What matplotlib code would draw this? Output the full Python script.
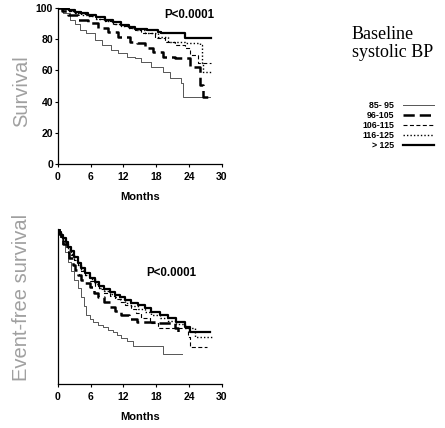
import matplotlib
matplotlib.use("Agg")
import matplotlib.pyplot as plt

plt.rcParams['font.family'] = ['Liberation Sans', 'DejaVu Sans']

groups = ["85- 95", "96-105", "106-115", "116-125", "> 125"]

# overall survival (%), Kaplan-Meier steps per systolic BP group
surv_t = [
    [0, 1, 2.2, 3.1, 4, 5.2, 6.8, 8, 9.8, 11, 12.6, 14.1, 15.3, 17.1, 19.2, 20.5, 22.6, 22.9, 27.8],
    [0, 0.8, 1.9, 3.7, 5.5, 7.4, 9.2, 11, 13.2, 14.4, 15.9, 17.4, 19.2, 21.4, 24.1, 26, 26.5, 27.8],
    [0, 1, 2, 3.1, 4.3, 5.5, 7, 8.6, 10, 11.6, 13, 14.1, 15.3, 17.7, 19.6, 21.4, 23.2, 24.1, 25.6, 28.1],
    [0, 1, 2, 3.1, 4.3, 5.5, 7, 8.6, 10, 11.6, 13, 14.1, 15.9, 18.3, 20.1, 23.2, 26, 26.3, 26.5, 28.1],
    [0, 1, 2, 3.1, 4.3, 5.5, 7, 8.6, 10, 11.6, 13, 14.1, 16.4, 18.3, 18.9, 23.2, 28.1],
]
surv_s = [
    [100, 97, 92.3, 90, 85.9, 83.8, 79.5, 76.3, 73, 71, 68.8, 67.7, 65.6, 62.4, 59.2, 55, 51.7, 43.2, 43.2],
    [100, 98, 95.5, 92.3, 90.2, 87, 84.8, 81.6, 78.4, 77.4, 74.2, 72, 68.8, 67.7, 62, 50.6, 43, 43],
    [100, 99, 98, 97, 95.8, 94.7, 93.2, 91.6, 90, 88.5, 87.2, 86, 83.8, 80.6, 78.4, 76.3, 74.2, 69.9, 64.5, 64.5],
    [100, 99, 97.8, 96.8, 95.6, 94.5, 93, 91.4, 89.8, 88.3, 87, 85.8, 83.8, 81.6, 78.4, 77.4, 76.3, 64.5, 59.2, 59.2],
    [100, 99.2, 98.4, 97.6, 96.5, 95.5, 94, 92.3, 90.7, 89.1, 88, 86.8, 85.9, 84.8, 83.8, 80.6, 80.6],
]

# event-free survival (%)
efs_t = [
    [0, 0.4, 0.8, 1.3, 1.9, 2.4, 3, 3.7, 4.2, 4.7, 5.2, 5.8, 6.5, 7.4, 8.2, 9.1, 10.1, 10.8, 11.6, 12.6, 13.7, 19.2, 22.7],
    [0, 0.3, 0.6, 1, 1.6, 2.1, 2.7, 3.2, 3.7, 4.3, 5, 5.85, 6.6, 7.4, 8.4, 9.5, 10.5, 11.6, 13, 14.4, 18.3, 21.4, 22, 22.3],
    [0, 0.3, 0.6, 1, 1.4, 1.9, 2.4, 3, 3.6, 4.3, 5, 5.8, 6.8, 7.6, 8.5, 9.5, 10.5, 11.3, 12.2, 13.4, 14.3, 15.3, 16.8, 18.3, 21.4, 23.8, 24.1, 27.3],
    [0, 0.3, 0.6, 1, 1.4, 1.9, 2.4, 3, 3.6, 4.3, 5, 5.8, 6.8, 7.6, 8.5, 9.5, 10.5, 11.3, 12.2, 13.4, 14.7, 15.9, 17.1, 18.6, 20.2, 21.7, 23.2, 25, 28.3],
    [0, 0.3, 0.6, 1, 1.4, 1.9, 2.4, 3, 3.6, 4.3, 5, 5.8, 6.8, 7.6, 8.5, 9.5, 10.5, 11.3, 12.2, 13.4, 14.7, 15.9, 17.1, 18.6, 20.2, 21.7, 23.2, 24.1, 27.8],
]
efs_s = [
    [100, 95, 90, 85, 78.9, 73, 67, 61.7, 56, 50, 44.5, 42, 40, 38, 36.5, 35, 33.7, 31.5, 29.7, 27.5, 24.5, 19.4, 19.4],
    [100, 96.5, 93, 90, 85, 81, 77, 73.5, 70, 67, 65, 62.8, 59, 56, 53, 49.9, 47, 44.5, 42, 40.2, 39.4, 36, 33.5, 33.5],
    [100, 97, 94.5, 92, 89.5, 86.5, 83.5, 80, 76.5, 73, 70, 66.5, 63.5, 61, 59, 57, 54.5, 53, 51, 48.5, 45.5, 42.4, 39, 36, 36, 30.5, 24, 24],
    [100, 97.5, 95, 92.5, 90, 87, 84, 80.5, 77, 73.5, 70.5, 67.5, 64.5, 62, 60, 58, 56, 54.5, 52.5, 50.5, 48.5, 46.5, 44.5, 42.5, 40.5, 38.5, 36, 30.5, 30.5],
    [100, 98, 96, 94, 91.5, 88.6, 85.5, 82, 78, 74.6, 71.5, 68.5, 66, 63.5, 61.5, 59.5, 57.5, 56, 54.2, 52.5, 51, 48.8, 46.6, 44.5, 42.4, 39.8, 37, 33.7, 33.7],
]

x_ticks = [0, 6, 12, 18, 24, 30]
y_ticks = [0, 20, 40, 60, 80, 100]

styles = [
    dict(color="#555555", lw=0.7, ls="-"),
    dict(color="black", lw=1.8, ls=(0, (4.5, 2))),
    dict(color="black", lw=0.8, ls=(0, (3.6, 2.2))),
    dict(color="black", lw=1.0, ls=(0, (1, 1.5))),
    dict(color="black", lw=1.6, ls="-"),
]

fig = plt.figure(figsize=(4.45, 4.28), dpi=100)
ax1 = fig.add_axes([0.130, 0.617, 0.3685, 0.3645])
ax2 = fig.add_axes([0.130, 0.103, 0.3685, 0.362])

tick_font = dict(fontsize=7.5, fontweight="bold")


def style_axes(ax, with_y):
    for side in ("top", "right"):
        ax.spines[side].set_visible(False)
    ax.spines["left"].set_linewidth(0.9)
    ax.spines["bottom"].set_linewidth(0.9)
    ax.set_xlim(0, 30)
    ax.set_ylim(0, 100)
    ax.set_xticks(x_ticks)
    ax.set_xticklabels([str(v) for v in x_ticks], **tick_font)
    ax.tick_params(length=2, width=0.8, pad=3.5)
    if with_y:
        ax.set_yticks(y_ticks)
        ax.set_yticklabels([str(v) for v in y_ticks], **tick_font)
        ax.tick_params(axis="y", pad=1.5)
    else:
        ax.set_yticks([])
    ax.set_xlabel("Months", fontsize=8, fontweight="bold", labelpad=7.5)


lines = []
for t, s, st in zip(surv_t, surv_s, styles):
    ln, = ax1.step(t, s, where="post", **st)
    lines.append(ln)
for t, s, st in zip(efs_t, efs_s, styles):
    ax2.step(t, s, where="post", **st)

style_axes(ax1, True)
style_axes(ax2, False)

ax1.set_ylabel("Survival", fontsize=14.5, color="#a0a0a0")
ax2.set_ylabel("Event-free survival", fontsize=14.5, color="#a0a0a0")
ax1.yaxis.set_label_coords(-0.165, 0.465)
ax2.yaxis.set_label_coords(-0.165, 0.555)

ax1.text(0.957, 0.955, "P<0.0001", transform=ax1.transAxes, ha="right", va="center",
         fontsize=8.3, fontweight="bold")
ax2.text(0.689, 0.718, "P<0.0001", transform=ax2.transAxes, ha="center", va="center",
         fontsize=8.3, fontweight="bold")

fig.text(0.791, 0.939, "Baseline\nsystolic BP", family="Liberation Serif", fontsize=13,
         ha="left", va="top", linespacing=1.05)

fig.legend(lines, groups, loc="upper right", bbox_to_anchor=(0.984, 0.775),
           markerfirst=False, frameon=False, borderpad=0, handlelength=3.5,
           handletextpad=1.0, labelspacing=0.12, prop=dict(size=6.3, weight="bold"))

fig.savefig("out.png", dpi=100)
